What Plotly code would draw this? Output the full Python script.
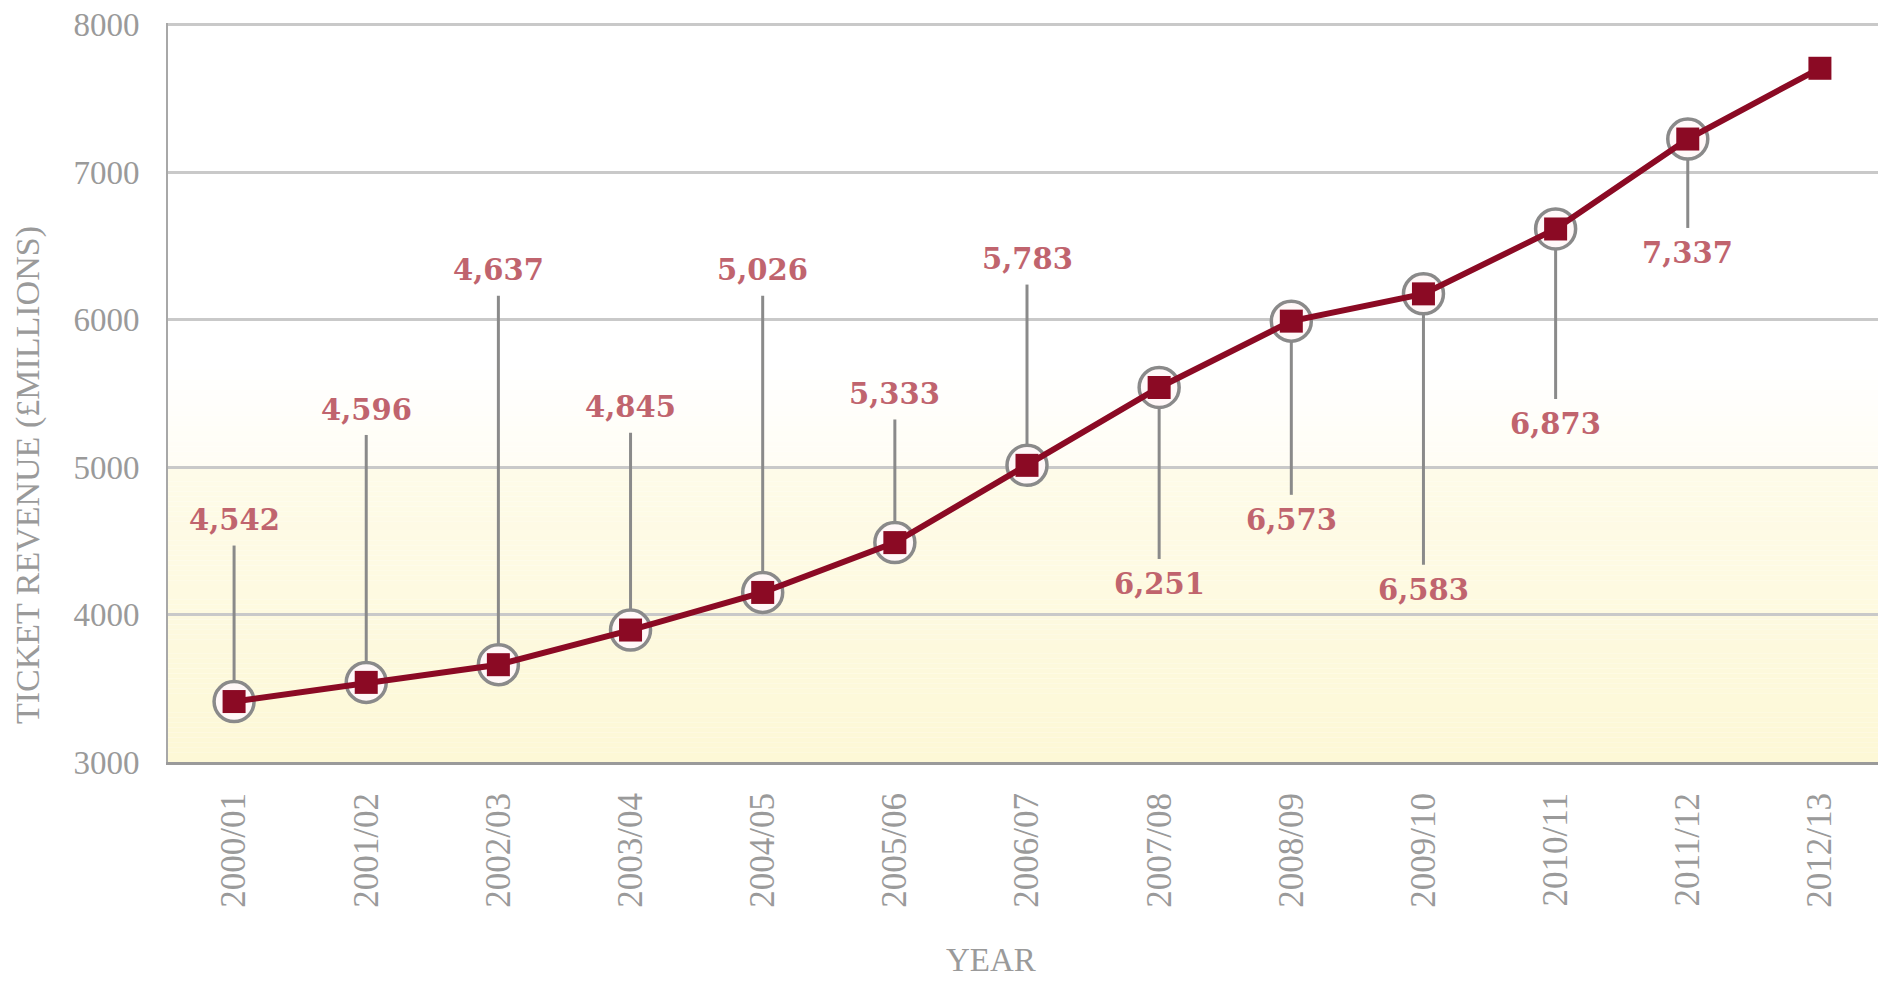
import plotly.graph_objects as go

# ---- data ----
years = ["2000/01", "2001/02", "2002/03", "2003/04", "2004/05", "2005/06", "2006/07",
         "2007/08", "2008/09", "2009/10", "2010/11", "2011/12", "2012/13"]
revenue = [3410, 3540, 3660, 3895, 4150, 4488, 5012, 5540, 5990, 6175, 6615, 7225, 7705]
label_text = ["4,542", "4,596", "4,637", "4,845", "5,026", "5,333", "5,783",
              "6,251", "6,573", "6,583", "6,873", "7,337", None]
label_pos = [4640, 5390, 6335, 5405, 6335, 5495, 6410, 4205, 4640, 4165, 5290, 6450, None]
y_ticks = [3000, 4000, 5000, 6000, 7000, 8000]

# ---- styles ----
RED = "#8b0a24"
LABEL_RED = "#c0646e"
GRAY_TXT = "#9a9a9a"
CONNECT = "#8a8a8a"
SERIF = "Liberation Serif"
GAP = 172

fig = go.Figure()

def mix(c1, c2, t):
    return "rgb({},{},{})".format(*[round(a + (b - a) * t) for a, b in zip(c1, c2)])

bottom_c = (253, 248, 214)
mid_c = (254, 251, 233)
top_c = (255, 253, 244)
white = (255, 255, 255)
shapes = []
n1 = 60
for i in range(n1):
    y0 = 3000 + 2000 * i / n1
    y1 = 3000 + 2000 * (i + 1) / n1
    shapes.append(dict(type="rect", xref="x domain", yref="y", x0=0, x1=1, y0=y0, y1=y1,
                       fillcolor=mix(bottom_c, mid_c, i / (n1 - 1)), line_width=0, layer="below"))
n2 = 20
for i in range(n2):
    y0 = 5000 + 700 * i / n2
    y1 = 5000 + 700 * (i + 1) / n2
    shapes.append(dict(type="rect", xref="x domain", yref="y", x0=0, x1=1, y0=y0, y1=y1,
                       fillcolor=mix(top_c, white, i / (n2 - 1)), line_width=0, layer="below"))

# connector lines
cx, cy = [], []
for yr, v, lp in zip(years, revenue, label_pos):
    if lp is None:
        continue
    end = lp - GAP if lp > v else lp + GAP
    cx += [yr, yr, None]
    cy += [v, end, None]
fig.add_trace(go.Scatter(x=cx, y=cy, mode="lines", line=dict(color=CONNECT, width=3),
                         hoverinfo="skip", showlegend=False))

# circles
circ_x = [yr for yr, lp in zip(years, label_pos) if lp is not None]
circ_y = [v for v, lp in zip(revenue, label_pos) if lp is not None]
fig.add_trace(go.Scatter(x=circ_x, y=circ_y, mode="markers",
                         marker=dict(symbol="circle", size=40, color="#fff8f8",
                                     line=dict(color=CONNECT, width=3.5)),
                         hoverinfo="skip", showlegend=False))

# main line
fig.add_trace(go.Scatter(x=years, y=revenue, mode="lines+markers",
                         line=dict(color=RED, width=6),
                         marker=dict(symbol="square", size=23, color=RED),
                         showlegend=False))

annotations = []
for yr, t, lp in zip(years, label_text, label_pos):
    if t is None:
        continue
    annotations.append(dict(x=yr, y=lp, xref="x", yref="y", text="<b>" + t + "</b>",
                            showarrow=False, xanchor="center", yanchor="middle",
                            font=dict(family="DejaVu Serif", size=29, color=LABEL_RED)))

W, H = 1878, 973
ML, MR, MT, MB = 160, 0, 15, 219

def paper_x(px):
    return (px - ML) / (W - ML - MR)

def paper_y(py):
    return 1 - (py - MT) / (H - MT - MB)

annotations.append(dict(x=paper_x(983), y=paper_y(952), xref="paper", yref="paper",
                        text="YEAR", showarrow=False, xanchor="center", yanchor="middle",
                        font=dict(family=SERIF, size=33, color=GRAY_TXT)))
annotations.append(dict(x=paper_x(20), y=paper_y(467), xref="paper", yref="paper",
                        text="TICKET REVENUE (£MILLIONS)", showarrow=False, textangle=-90,
                        xanchor="center", yanchor="middle",
                        font=dict(family=SERIF, size=34, color=GRAY_TXT)))

fig.update_layout(
    width=W, height=H,
    margin=dict(l=ML, r=MR, t=MT, b=MB),
    paper_bgcolor="white", plot_bgcolor="white",
    shapes=shapes, annotations=annotations,
    showlegend=False,
)
fig.update_xaxes(type="category", range=[-0.5, 12.5], tickangle=-90,
                 tickfont=dict(family=SERIF, size=35, color=GRAY_TXT),
                 showline=True, linecolor="#9a9a9a", linewidth=3,
                 showgrid=False, ticks="", ticklabelstandoff=14)
fig.update_yaxes(range=[3000, 8012], tickvals=y_ticks, ticktext=[str(v) for v in y_ticks],
                 tickfont=dict(family=SERIF, size=33, color=GRAY_TXT),
                 ticklabeloverflow="allow",
                 showline=True, linecolor="#a8a8a8", linewidth=2,
                 showgrid=True, gridcolor="#c9c9c9", gridwidth=2.5,
                 zeroline=False, ticks="", ticklabelstandoff=20)

fig.write_html("out.html")
